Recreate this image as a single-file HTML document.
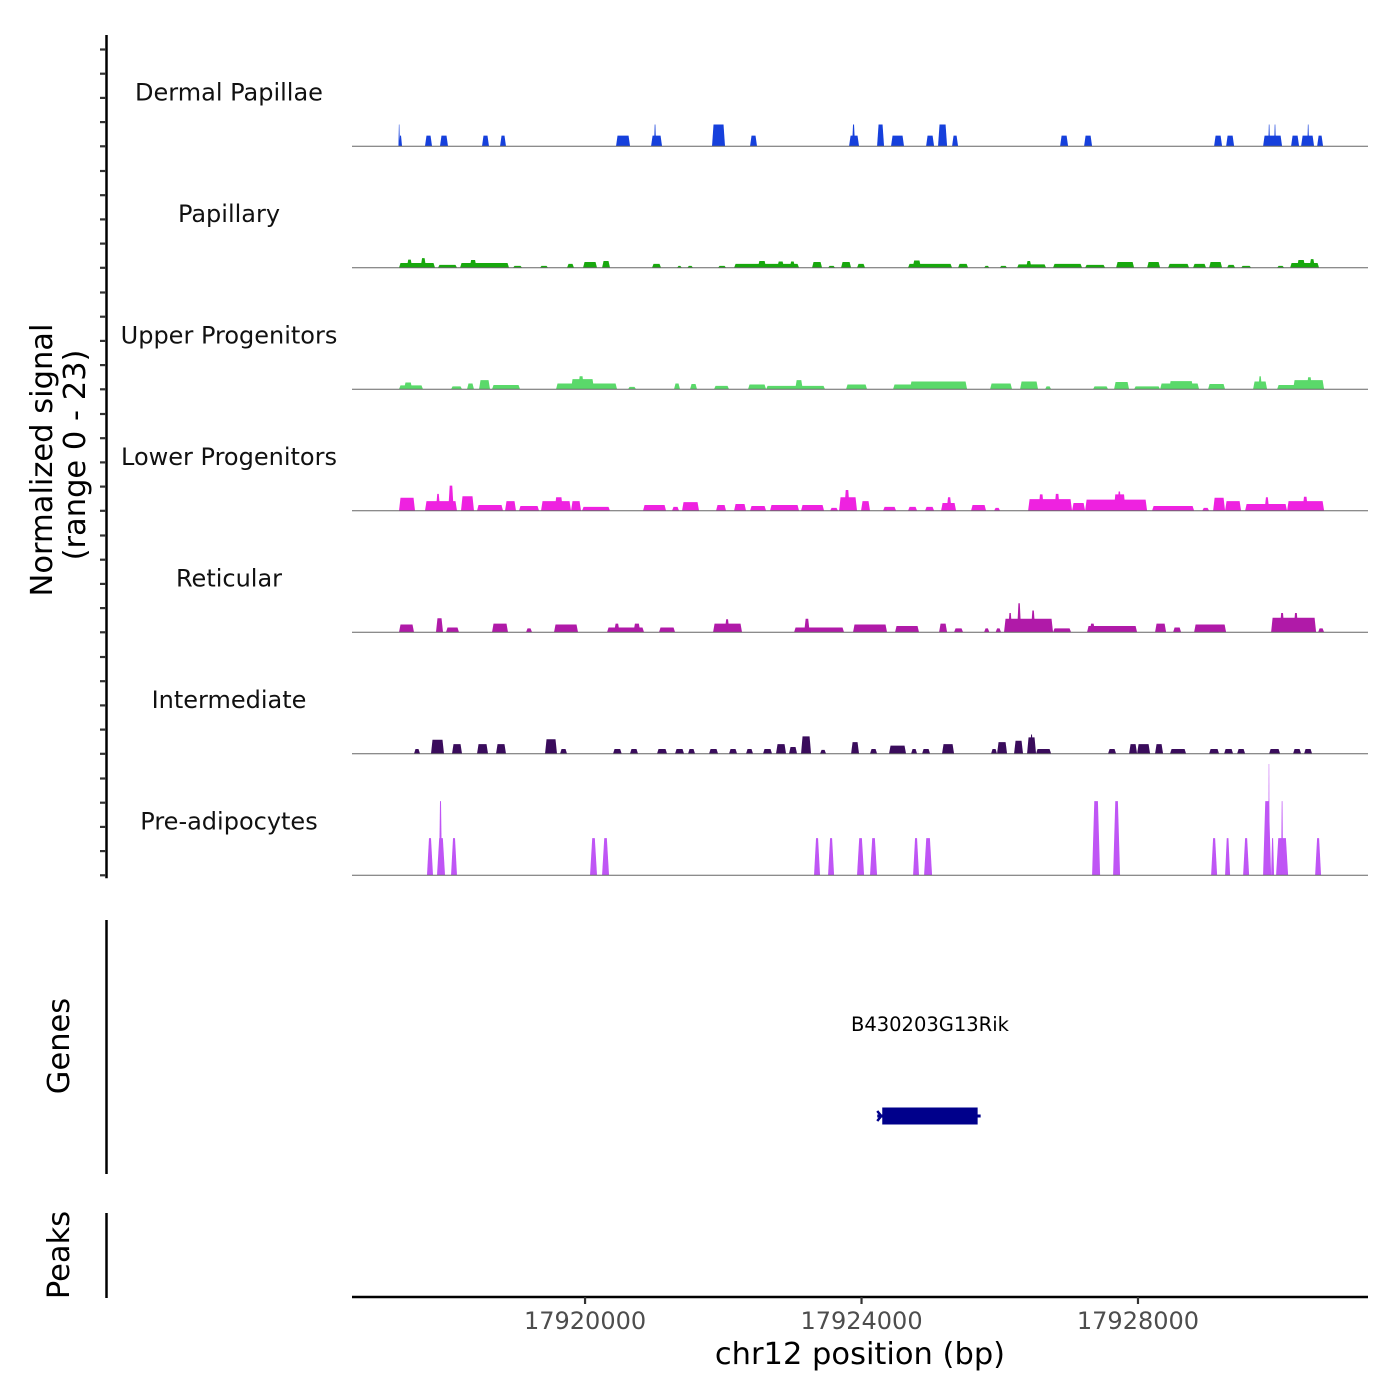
<!DOCTYPE html>
<html><head><meta charset="utf-8">
<style>
html,body{margin:0;padding:0;background:#fff;}
svg{display:block;font-family:"DejaVu Sans","Liberation Sans",sans-serif;}
</style></head>
<body>
<svg id="chart" width="1400" height="1400" viewBox="0 0 1400 1400" xmlns="http://www.w3.org/2000/svg">
  <rect x="0" y="0" width="1400" height="1400" fill="#fff"/>
  <g id="tracks"></g>
  <g id="yaxis"></g>
  <text transform="translate(52,460) rotate(-90)" text-anchor="middle" font-size="30.5" fill="#000">Normalized signal</text>
  <text transform="translate(85,455) rotate(-90)" text-anchor="middle" font-size="30.5" fill="#000">(range 0 - 23)</text>

  <line x1="106.5" y1="920" x2="106.5" y2="1174" stroke="#000" stroke-width="2.5"/>
  <text transform="translate(69,1046) rotate(-90)" text-anchor="middle" font-size="30.5" fill="#000">Genes</text>
  <g id="genes"></g>

  <line x1="106.5" y1="1213" x2="106.5" y2="1298" stroke="#000" stroke-width="2.5"/>
  <text transform="translate(69,1255) rotate(-90)" text-anchor="middle" font-size="30.5" fill="#000">Peaks</text>

  <g id="xaxis"></g>
  <text x="860" y="1364" text-anchor="middle" font-size="30.5" fill="#000">chr12 position (bp)</text>
</svg>
<script>
// ---- data ----
const regionStart = 17916628;
const regionEnd = 17931328;
const xTicks = [17920000, 17924000, 17928000];
const xTickLabels = ["17920000", "17924000", "17928000"];
const trackNames = ["Dermal Papillae","Papillary","Upper Progenitors","Lower Progenitors","Reticular","Intermediate","Pre-adipocytes"];
const trackColors = ["#1640dc","#18a80e","#5ad96a","#ee22e0","#b01aa8","#3a0c5c","#bf55f5"];
const yMax = 23;
const yTickValues = [0,5,10,15,20];

const dermalPapillae = [
 [17917300,17917320,4.5],[17917308,17917352,2.2],[17917684,17917786,2.2],[17917901,17918017,2.2],
 [17918509,17918610,2.2],[17918770,17918856,2.2],[17920448,17920651,2.2],[17920955,17921114,2.2],
 [17920998,17921027,4.5],[17921837,17922025,4.5],[17922387,17922488,2.2],[17923820,17923964,2.2],
 [17923863,17923906,4.5],[17924225,17924326,4.5],[17924427,17924615,2.2],[17924934,17925050,2.2],
 [17925107,17925238,4.5],[17925310,17925397,2.2],[17926873,17926989,2.2],[17927220,17927336,2.2],
 [17929101,17929217,2.2],[17929275,17929391,2.2],[17929810,17930085,2.2],[17929885,17929910,4.5],
 [17929970,17929995,4.5],[17930215,17930331,2.2],[17930360,17930548,2.2],[17930450,17930475,4.5],
 [17930592,17930678,2.2]
];
const papillary = [
 [17917308,17917829,1.0],[17917420,17917500,1.7],[17917620,17917700,2.0],[17917872,17918147,0.6],
 [17918191,17918900,1.0],[17918330,17918430,1.6],[17918958,17919088,0.4],[17919348,17919464,0.4],
 [17919739,17919840,0.8],[17919971,17920173,1.2],[17920246,17920361,1.4],[17920969,17921099,0.8],
 [17921331,17921400,0.4],[17921480,17921562,0.4],[17921924,17922040,0.4],[17922156,17923096,0.8],
 [17922500,17922620,1.4],[17922780,17922880,1.3],[17922960,17923040,1.3],[17923284,17923429,1.2],
 [17923516,17923617,0.4],[17923704,17923849,1.2],[17923935,17924051,0.8],[17924673,17925310,0.8],
 [17924740,17924860,1.5],[17925397,17925542,0.8],[17925773,17925850,0.4],[17926000,17926106,0.4],
 [17926251,17926670,0.7],[17926380,17926460,1.4],[17926771,17927191,0.8],[17927235,17927524,0.6],
 [17927683,17927944,1.2],[17928132,17928320,1.2],[17928436,17928739,0.8],[17928797,17928985,0.8],
 [17929029,17929217,1.2],[17929289,17929405,0.6],[17929492,17929637,0.4],[17930013,17930114,0.4],
 [17930201,17930620,1.0],[17930300,17930420,1.6],[17930480,17930560,1.8]
];
const upperProgenitors = [
 [17917308,17917655,0.8],[17917380,17917500,1.4],[17918061,17918220,0.6],[17918292,17918393,1.2],
 [17918466,17918625,1.9],[17918654,17919059,0.9],[17919580,17920463,1.2],[17919797,17920130,2.1],
 [17919900,17919985,2.7],[17920622,17920737,0.5],[17921287,17921374,1.2],[17921519,17921620,1.1],
 [17921866,17922083,0.7],[17922358,17922619,1.0],[17922619,17923472,0.7],[17923040,17923150,1.9],
 [17923776,17924080,1.0],[17924456,17925527,1.0],[17924700,17925527,1.6],[17925860,17926178,1.2],
 [17926294,17926554,1.6],[17926656,17926743,0.6],[17927350,17927567,0.6],[17927654,17927871,1.5],
 [17927944,17928320,0.6],[17928320,17928884,1.2],[17928450,17928800,1.7],[17929014,17929260,1.1],
 [17929665,17929868,1.6],[17929740,17929795,2.7],[17930013,17930693,0.9],[17930244,17930693,1.9],
 [17930440,17930520,2.5]
];
const lowerProgenitors = [
 [17917308,17917540,2.7],[17917684,17918147,2.0],[17917840,17917905,3.5],[17918020,17918100,5.2],
 [17918205,17918393,3.0],[17918437,17918813,1.2],[17918842,17919001,2.0],[17919044,17919334,1.0],
 [17919363,17919797,2.0],[17919560,17919680,2.8],[17919797,17919942,2.0],[17919956,17920361,0.8],
 [17920839,17921172,1.2],[17921258,17921360,0.8],[17921403,17921649,1.8],[17921895,17922040,1.2],
 [17922156,17922329,1.4],[17922387,17922619,1.0],[17922676,17923096,1.2],[17923125,17923458,1.2],
 [17923545,17923660,0.6],[17923675,17923935,2.8],[17923750,17923830,4.3],[17923993,17924123,2.0],
 [17924312,17924500,0.8],[17924673,17924804,0.8],[17924919,17925050,0.8],[17925151,17925368,1.6],
 [17925230,17925305,2.8],[17925585,17925802,1.2],[17925918,17926005,0.6],[17926410,17927046,2.4],
 [17926560,17926640,3.4],[17926790,17926870,3.5],[17927046,17927235,1.6],[17927235,17928132,2.3],
 [17927650,17927820,3.4],[17927700,17927760,4.0],[17928204,17928812,1.0],[17928930,17929029,0.6],
 [17929087,17929260,2.7],[17929260,17929492,2.0],[17929550,17930157,1.4],[17929830,17929900,2.8],
 [17930157,17930693,2.0],[17930380,17930460,2.9]
];
const reticular = [
 [17917308,17917525,1.6],[17917843,17917945,2.9],[17917988,17918176,1.0],[17918654,17918885,1.8],
 [17919146,17919233,0.8],[17919551,17919898,1.6],[17920318,17920853,1.0],[17920420,17920500,1.8],
 [17920700,17920800,1.8],[17921070,17921302,1.0],[17921852,17922271,1.8],[17922020,17922090,2.7],
 [17923024,17923747,1.0],[17923170,17923250,2.8],[17923877,17924369,1.6],[17924485,17924832,1.3],
 [17925122,17925238,1.8],[17925339,17925469,0.8],[17925773,17925850,0.8],[17925940,17926019,0.8],
 [17926062,17926771,2.8],[17926120,17926180,4.0],[17926250,17926310,6.0],[17926450,17926515,4.5],
 [17926771,17927032,0.8],[17927263,17927987,1.3],[17927300,17927380,1.8],[17928247,17928407,1.8],
 [17928508,17928624,1.0],[17928812,17929275,1.6],[17929926,17930577,3.0],[17930050,17930120,4.0],
 [17930250,17930320,4.0],[17930606,17930693,0.8]
];
const intermediate = [
 [17917525,17917612,1.0],[17917771,17917959,2.9],[17918075,17918220,2.0],[17918437,17918596,2.0],
 [17918712,17918856,2.0],[17919421,17919594,3.0],[17919638,17919739,1.0],[17920405,17920530,1.0],
 [17920650,17920766,1.0],[17921041,17921186,1.0],[17921302,17921432,1.0],[17921490,17921591,1.0],
 [17921794,17921924,1.0],[17922083,17922199,1.0],[17922329,17922430,1.0],[17922575,17922705,1.0],
 [17922763,17922908,2.0],[17922951,17923067,1.4],[17923125,17923270,3.6],[17923400,17923487,0.8],
 [17923849,17923964,2.4],[17924123,17924225,1.0],[17924398,17924644,1.7],[17924717,17924804,1.0],
 [17924876,17924992,1.0],[17925165,17925339,2.0],[17925874,17925961,1.0],[17925961,17926106,2.4],
 [17926207,17926337,2.7],[17926395,17926525,3.4],[17926440,17926480,4.0],[17926525,17926743,1.0],
 [17927567,17927683,1.0],[17927871,17927987,2.0],[17927987,17928175,2.0],[17928247,17928363,2.0],
 [17928464,17928696,1.0],[17929029,17929173,1.0],[17929246,17929376,1.0],[17929434,17929550,1.0],
 [17929897,17930056,1.0],[17930244,17930360,1.0],[17930403,17930519,1.0]
];
const preAdipocytes = [
 [17917713,17917800,7.67],[17917858,17917974,7.67],[17917887,17917930,15.33],[17918061,17918147,7.67],
 [17920072,17920173,7.67],[17920246,17920347,7.67],[17923313,17923400,7.67],[17923516,17923603,7.67],
 [17923935,17924037,7.67],[17924123,17924225,7.67],[17924746,17924832,7.67],[17924905,17925021,7.67],
 [17927336,17927452,15.33],[17927640,17927741,15.33],[17929058,17929145,7.67],[17929260,17929333,7.67],
 [17929521,17929608,7.67],[17929810,17929926,15.33],[17929885,17929905,23],[17929926,17929969,7.67],
 [17929998,17930172,7.67],[17930070,17930100,15.33],[17930563,17930649,7.67]
];
const trackData = [dermalPapillae,papillary,upperProgenitors,lowerProgenitors,reticular,intermediate,preAdipocytes];
const geneName = "B430203G13Rik";
const geneStart = 17924300;
const geneEnd = 17925680;

// ---- scales ----
const NS = "http://www.w3.org/2000/svg";
const plotLeft = 352, plotRight = 1368;
function xScale(bp){ return plotLeft + (bp - regionStart) / (regionEnd - regionStart) * (plotRight - plotLeft); }
const trackBase0 = 146.3, trackStep = 121.5, pxPerUnit = 4.84;
function yScale(i, v){ return trackBase0 + i*trackStep - v*pxPerUnit; }
function mk(tag, attrs, parent){
  const el = document.createElementNS(NS, tag);
  for (const k in attrs) el.setAttribute(k, attrs[k]);
  parent.appendChild(el);
  return el;
}

// ---- tracks ----
const tracksG = document.getElementById('tracks');
trackNames.forEach((name, i) => {
  const g = mk('g', {}, tracksG);
  
  
  const base = yScale(i, 0);
  trackData[i].forEach(p => {
    const x0 = xScale(p[0]), x1 = xScale(p[1]), yt = yScale(i, p[2]);
    const w = x1 - x0;
    const s = Math.min(i === 6 ? 2.2 : 1.5, w/3);
    const poly = mk('polygon', {
      points: `${x0},${base} ${x0+s},${yt} ${x1-s},${yt} ${x1},${base}`,
      fill: trackColors[i]
    }, g);
    
    
  });
  const bl = mk('line', {x1: plotLeft, x2: plotRight, y1: base, y2: base, stroke: '#666', 'stroke-width': 1}, g);
  
  
  const lab = mk('text', {x: 229, y: base - 46, 'text-anchor': 'middle', 'font-size': 24, fill: '#111'}, g);
  lab.textContent = name;
  
  
});

// ---- y axis ----
const yG = document.getElementById('yaxis');
const yl = mk('line', {x1: 106.5, x2: 106.5, y1: yScale(0, yMax), y2: yScale(6, 0) + 3, stroke: '#000', 'stroke-width': 2.5}, yG);


for (let i = 0; i < trackNames.length; i++) {
  yTickValues.forEach(v => {
    const y = yScale(i, v);
    const t = mk('line', {x1: 100, x2: 106, y1: y, y2: y, stroke: '#333', 'stroke-width': 2.2}, yG);
    
    
  });
}

// ---- gene ----
const gG = document.getElementById('genes');
const gx0 = xScale(geneStart), gx1 = xScale(geneEnd);
const gl = mk('line', {x1: gx0 - 5, x2: gx1 + 3, y1: 1116, y2: 1116, stroke: '#00008b', 'stroke-width': 3}, gG);


const gr = mk('rect', {x: gx0, y: 1107.5, width: gx1 - gx0, height: 17, fill: '#00008b'}, gG);


const ga = mk('polyline', {points: `${gx0-5},1111 ${gx0-1},1116 ${gx0-5},1121`, fill: 'none', stroke: '#00008b', 'stroke-width': 2.5}, gG);


const gt = mk('text', {x: (gx0 + gx1)/2, y: 1031, 'text-anchor': 'middle', 'font-size': 19.5, fill: '#000'}, gG);
gt.textContent = geneName;



// ---- x axis ----
const xG = document.getElementById('xaxis');
const xl = mk('line', {x1: plotLeft, x2: plotRight, y1: 1297, y2: 1297, stroke: '#000', 'stroke-width': 2.5}, xG);


xTicks.forEach((v, k) => {
  const x = xScale(v);
  const t = mk('line', {x1: x, x2: x, y1: 1297, y2: 1304, stroke: '#333', 'stroke-width': 2.2}, xG);
  
  
  const lb = mk('text', {x: x, y: 1329, 'text-anchor': 'middle', 'font-size': 24, fill: '#4d4d4d'}, xG);
  lb.textContent = xTickLabels[k];
  
  
});
</script>
</body></html>
